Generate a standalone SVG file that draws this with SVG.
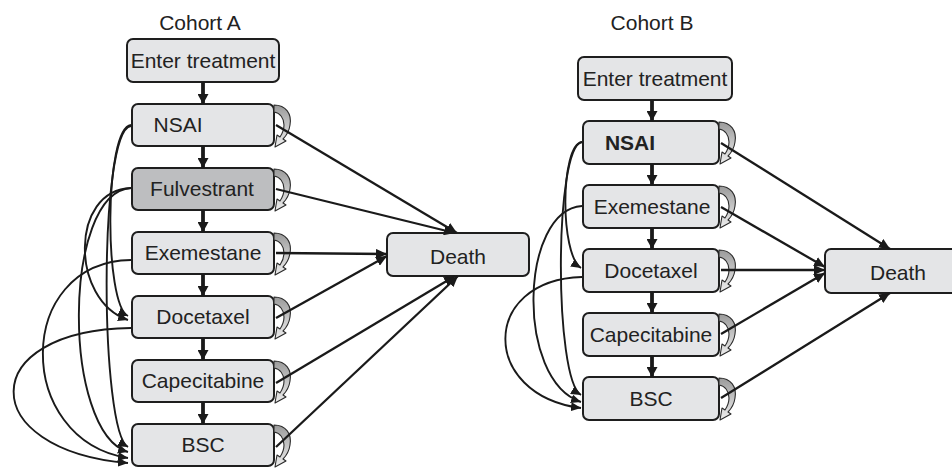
<svg xmlns="http://www.w3.org/2000/svg" xmlns:xlink="http://www.w3.org/1999/xlink" width="952" height="468" viewBox="0 0 952 468">
<style>
.box{fill:#e4e5e7;stroke:#1e1e1e;stroke-width:2}
.dark{fill:#bdbec0}
text{font-family:"Liberation Sans",Arial,Helvetica,sans-serif;font-size:21px;fill:#222;text-anchor:middle}
.b{font-weight:bold}
.ln{fill:none;stroke:#1a1a1a;stroke-width:2.3;marker-end:url(#ah)}
.vt{fill:none;stroke:#1a1a1a;stroke-width:3.8;marker-end:url(#ahv)}
.cv{fill:none;stroke:#1a1a1a;stroke-width:1.9;marker-end:url(#ahs)}
.cv0{fill:none;stroke:#1a1a1a;stroke-width:1.9}
</style>
<defs>
<marker id="ah" markerUnits="userSpaceOnUse" markerWidth="11" markerHeight="10" refX="11" refY="5" orient="auto"><path d="M0,0 L11,5 L0,10 Z" fill="#1a1a1a"/></marker>
<marker id="ahv" markerUnits="userSpaceOnUse" markerWidth="11" markerHeight="11" refX="10" refY="5.5" orient="auto"><path d="M0,0 L10,5.5 L0,11 Z" fill="#1a1a1a"/></marker>
<marker id="ahs" markerUnits="userSpaceOnUse" markerWidth="10" markerHeight="9" refX="10" refY="4.5" orient="auto"><path d="M0,0 L10,4.5 L0,9 Z" fill="#1a1a1a"/></marker>
<linearGradient id="lg" x1="0" y1="0" x2="0" y2="1"><stop offset="0" stop-color="#9a9a9a"/><stop offset="0.5" stop-color="#c6c6c6"/><stop offset="1" stop-color="#ededed"/></linearGradient>
<g id="loop"><path d="M0,1 C12,1 18,10 16,21 C15,28 12,32 9,35 L12,37 L1,43 L3,31 L6,33 C8,30 10,26 10,21 C10,14 6,9 0,8 Z" fill="url(#lg)" stroke="#2a2a2a" stroke-width="1.1" stroke-linejoin="round"/></g>
</defs>
<rect width="952" height="468" fill="#fff"/>
<text x="200" y="30">Cohort A</text>
<text x="652" y="30">Cohort B</text>

<g id="a-enter"><rect class="box" x="127" y="39" width="152" height="43" rx="6"/><text x="203" y="68">Enter treatment</text></g>
<g id="a-nsai"><rect class="box" x="132" y="104" width="142" height="42" rx="6"/><text x="178" y="132">NSAI</text></g>
<g id="a-fulvestrant"><rect class="box dark" x="132" y="168" width="142" height="42" rx="6"/><text x="202" y="196">Fulvestrant</text></g>
<g id="a-exemestane"><rect class="box" x="132" y="232" width="142" height="42" rx="6"/><text x="203" y="260">Exemestane</text></g>
<g id="a-docetaxel"><rect class="box" x="132" y="296" width="142" height="42" rx="6"/><text x="203" y="324">Docetaxel</text></g>
<g id="a-capecitabine"><rect class="box" x="132" y="360" width="142" height="42" rx="6"/><text x="203" y="388">Capecitabine</text></g>
<g id="a-bsc"><rect class="box" x="132" y="424" width="142" height="42" rx="6"/><text x="203" y="452">BSC</text></g>
<g id="a-death"><rect class="box" x="387" y="233" width="142" height="43" rx="6"/><text x="458" y="264">Death</text></g>

<g id="b-enter"><rect class="box" x="578" y="57" width="154" height="43" rx="6"/><text x="655" y="86">Enter treatment</text></g>
<g id="b-nsai"><rect class="box" x="583" y="121" width="136" height="43" rx="6"/><text class="b" x="630" y="150">NSAI</text></g>
<g id="b-exemestane"><rect class="box" x="583" y="185" width="136" height="43" rx="6"/><text x="652" y="214">Exemestane</text></g>
<g id="b-docetaxel"><rect class="box" x="583" y="249" width="136" height="43" rx="6"/><text x="651" y="278">Docetaxel</text></g>
<g id="b-capecitabine"><rect class="box" x="583" y="313" width="136" height="43" rx="6"/><text x="651" y="342">Capecitabine</text></g>
<g id="b-bsc"><rect class="box" x="583" y="377" width="136" height="43" rx="6"/><text x="651" y="406">BSC</text></g>
<g id="b-death"><rect class="box" x="825" y="249" width="140" height="44" rx="6"/><text x="898" y="280">Death</text></g>

<g id="connectors">
<!-- self loops A -->
<use href="#loop" x="274" y="104"/>
<use href="#loop" x="274" y="168"/>
<use href="#loop" x="274" y="232"/>
<use href="#loop" x="274" y="296"/>
<use href="#loop" x="274" y="360"/>
<use href="#loop" x="274" y="424"/>
<!-- self loops B -->
<use href="#loop" x="719" y="121"/>
<use href="#loop" x="719" y="185"/>
<use href="#loop" x="719" y="249"/>
<use href="#loop" x="719" y="313"/>
<use href="#loop" x="719" y="377"/>
<!-- vertical A -->
<path class="vt" d="M203,82 V104"/>
<path class="vt" d="M203,146 V168"/>
<path class="vt" d="M203,210 V232"/>
<path class="vt" d="M203,274 V296"/>
<path class="vt" d="M203,338 V360"/>
<path class="vt" d="M203,402 V424"/>
<!-- vertical B -->
<path class="vt" d="M652,100 V121"/>
<path class="vt" d="M652,164 V185"/>
<path class="vt" d="M652,228 V249"/>
<path class="vt" d="M652,292 V313"/>
<path class="vt" d="M652,356 V377"/>
<!-- to death A -->
<path class="ln" d="M276,125 L457,233"/>
<path class="ln" d="M276,189 L455,233"/>
<path class="ln" d="M276,253 L387,254"/>
<path class="ln" d="M276,318 L387,256"/>
<path class="ln" d="M276,383 L455,276"/>
<path class="ln" d="M276,447 L458,276"/>
<!-- to death B -->
<path class="ln" d="M721,143 L890,249"/>
<path class="ln" d="M721,207 L825,267"/>
<path class="ln" d="M721,270 L825,270"/>
<path class="ln" d="M721,334 L825,273"/>
<path class="ln" d="M721,398 L890,293"/>
<!-- skip curves A -->
<path class="cv" d="M131,125 C104,128 104,305 128,316"/>
<path class="cv" d="M131,126 C98,130 100,432 128,447"/>
<path class="cv" d="M131,188 C70,190 70,300 128,320"/>
<path class="cv" d="M131,188 C62,192 62,432 128,452"/>
<path class="cv" d="M131,260 C14,262 14,440 128,458"/>
<path class="cv" d="M131,328 C-25,330 -25,450 128,463"/>
<!-- skip curves B -->
<path class="cv" d="M582,142 C560,145 560,255 581,268"/>
<path class="cv" d="M582,142 C554,146 554,380 581,395"/>
<path class="cv" d="M582,206 C520,210 515,380 581,402"/>
<path class="cv" d="M582,277 C480,280 480,395 581,408"/>
</g>
</svg>
